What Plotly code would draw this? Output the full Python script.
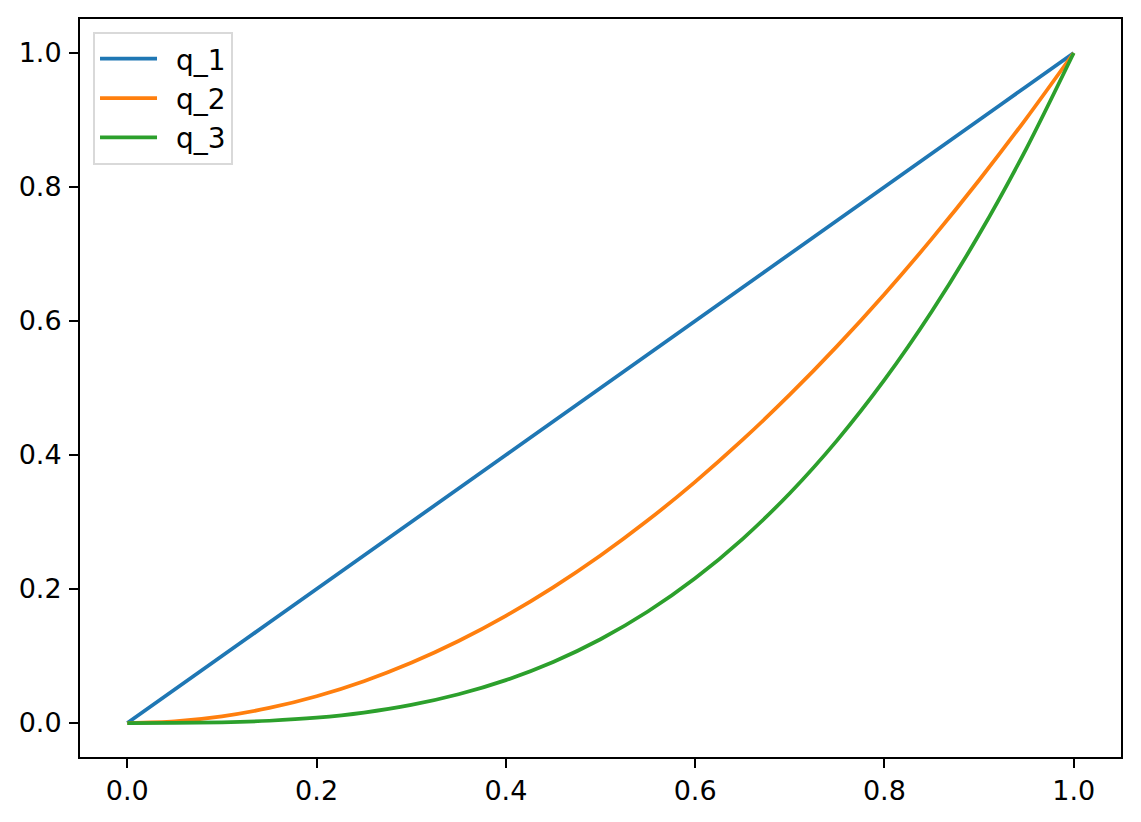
import plotly.graph_objects as go

# values
x = [0.0, 0.05, 0.1, 0.15, 0.2, 0.25, 0.3, 0.35, 0.4, 0.45, 0.5,
     0.55, 0.6, 0.65, 0.7, 0.75, 0.8, 0.85, 0.9, 0.95, 1.0]
q_1 = [0.0, 0.05, 0.1, 0.15, 0.2, 0.25, 0.3, 0.35, 0.4, 0.45, 0.5,
       0.55, 0.6, 0.65, 0.7, 0.75, 0.8, 0.85, 0.9, 0.95, 1.0]
q_2 = [0.0, 0.0025, 0.01, 0.0225, 0.04, 0.0625, 0.09, 0.1225, 0.16, 0.2025, 0.25,
       0.3025, 0.36, 0.4225, 0.49, 0.5625, 0.64, 0.7225, 0.81, 0.9025, 1.0]
q_3 = [0.0, 0.0001, 0.001, 0.0034, 0.008, 0.0156, 0.027, 0.0429, 0.064, 0.0911, 0.125,
       0.1664, 0.216, 0.2746, 0.343, 0.4219, 0.512, 0.6141, 0.729, 0.8574, 1.0]

names = ['q_1', 'q_2', 'q_3']
colors = ['#1f77b4', '#ff7f0e', '#2ca02c']

fig = go.Figure()
for name, ys, c in zip(names, [q_1, q_2, q_3], colors):
    # en space in front gives the matplotlib-like gap between handle and label
    fig.add_trace(go.Scatter(x=x, y=ys, mode='lines', name='\u2002' + name,
                             line=dict(color=c, width=3.75, shape='spline', smoothing=0.8)))

axis_style = dict(showline=True, mirror=True, linecolor='black', linewidth=2,
                  ticks='outside', ticklen=9, tickwidth=2, tickcolor='black',
                  showgrid=False, zeroline=False, tickformat='.1f', dtick=0.2)

# page body adds an 8px offset, so margins are trimmed to match
fig.update_layout(
    width=1133, height=814, autosize=False,
    margin=dict(l=72, r=20, t=9, b=65),
    plot_bgcolor='white', paper_bgcolor='white',
    font=dict(family='DejaVu Sans', size=27, color='black'),
    xaxis=dict(range=[-0.05, 1.05], tick0=0, ticklabelstandoff=0, **axis_style),
    yaxis=dict(range=[-0.0507, 1.0507], tick0=0, ticklabelstandoff=2, **axis_style),
    legend=dict(x=0.0125, y=0.9825, xanchor='left', yanchor='top',
                bordercolor='#d9d9d9', borderwidth=2, bgcolor='white',
                font=dict(size=28), tracegroupgap=0, itemwidth=57),
    showlegend=True,
)

fig.write_html("out.html")
